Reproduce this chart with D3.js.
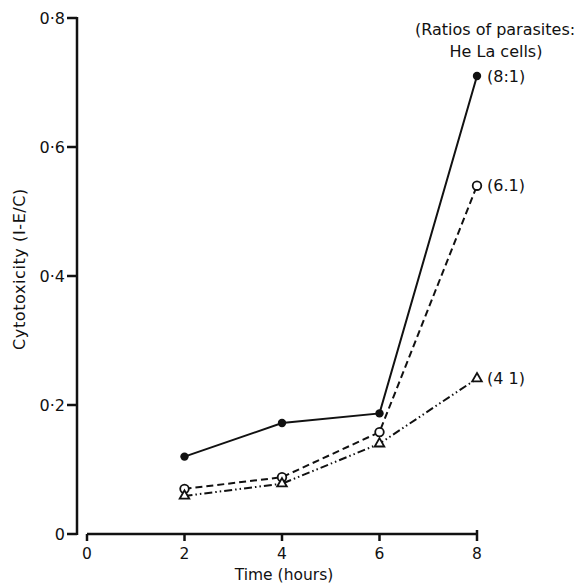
<!DOCTYPE html>
<html>
<head>
<meta charset="utf-8">
<script src="https://cdn.jsdelivr.net/npm/d3@7"></script>
<style>
  body { margin: 0; background: #fff; }
  svg text { font-family: "DejaVu Sans", sans-serif; fill: #111; }
</style>
</head>
<body>
<div id="chart"></div>
<script>
// data
const hours = [2, 4, 6, 8];
const ratio8 = [0.12, 0.172, 0.187, 0.71];
const ratio6 = [0.07, 0.088, 0.158, 0.54];
const ratio4 = [0.059, 0.078, 0.14, 0.241];
const seriesLabels = ["(8:1)", "(6.1)", "(4 1)"];
const xTicks = [0, 2, 4, 6, 8];
const yTicks = [0, 0.2, 0.4, 0.6, 0.8];

const W = 578, H = 583;
const svg = d3.select("#chart").append("svg")
    .attr("width", W).attr("height", H);

const x = d3.scaleLinear().domain([0, 8]).range([87, 477]);
const y = d3.scaleLinear().domain([0, 0.8]).range([534, 18]);

const fmt = d => d === 0 ? "0" : d3.format(".1f")(d).replace(".", "·");

// y axis
svg.append("line")
    .attr("x1", 77).attr("x2", 77)
    .attr("y1", y(0.8) - 1).attr("y2", y(0) + 1)
    .attr("stroke", "#111").attr("stroke-width", 2.5);
svg.selectAll(".ytick").data(yTicks).join("line")
    .attr("x1", 67).attr("x2", 77)
    .attr("y1", d => y(d)).attr("y2", d => y(d))
    .attr("stroke", "#111").attr("stroke-width", 2.5);
svg.selectAll(".ylab").data(yTicks).join("text")
    .attr("x", 65).attr("y", d => y(d))
    .attr("text-anchor", "end").attr("dominant-baseline", "central")
    .attr("font-size", 16)
    .text(fmt);

// x axis
svg.append("line")
    .attr("x1", x(0)).attr("x2", x(8) + 1)
    .attr("y1", 534).attr("y2", 534)
    .attr("stroke", "#111").attr("stroke-width", 2.5);
svg.selectAll(".xtick").data(xTicks).join("line")
    .attr("x1", d => x(d)).attr("x2", d => x(d))
    .attr("y1", d => d === 8 ? 530 : 534).attr("y2", 541)
    .attr("stroke", "#111").attr("stroke-width", 2.5);
svg.selectAll(".xlab").data(xTicks).join("text")
    .attr("x", d => x(d)).attr("y", 559)
    .attr("text-anchor", "middle")
    .attr("font-size", 15.5)
    .text(d => d);

svg.append("text")
    .attr("x", 284).attr("y", 580)
    .attr("text-anchor", "middle").attr("font-size", 15.5)
    .text("Time (hours)");

svg.append("text")
    .attr("transform", "translate(25,269) rotate(-90)")
    .attr("text-anchor", "middle").attr("font-size", 16)
    .attr("letter-spacing", 0.6)
    .text("Cytotoxicity (I-E/C)");

// series
const line = d3.line().x(d => x(d[0])).y(d => y(d[1]));
const series = [
  { vals: ratio8, dash: null, marker: "filled" },
  { vals: ratio6, dash: "7,4", marker: "open" },
  { vals: ratio4, dash: "8,3,1.5,3,1.5,3", marker: "tri" }
];

series.forEach((s, i) => {
  const pts = hours.map((h, j) => [h, s.vals[j]]);
  svg.append("path")
      .datum(pts)
      .attr("d", line)
      .attr("fill", "none")
      .attr("stroke", "#111")
      .attr("stroke-width", 2)
      .attr("stroke-dasharray", s.dash);

  if (s.marker === "filled") {
    svg.selectAll(".m" + i).data(pts).join("circle")
        .attr("cx", d => x(d[0])).attr("cy", d => y(d[1]))
        .attr("r", 4.2).attr("fill", "#111");
  } else if (s.marker === "open") {
    svg.selectAll(".m" + i).data(pts).join("circle")
        .attr("cx", d => x(d[0])).attr("cy", d => y(d[1]))
        .attr("r", 4.3).attr("fill", "#fff")
        .attr("stroke", "#111").attr("stroke-width", 1.8);
  } else {
    svg.selectAll(".m" + i).data(pts).join("path")
        .attr("transform", d => `translate(${x(d[0])},${y(d[1])})`)
        .attr("d", d3.symbol(d3.symbolTriangle, 40))
        .attr("fill", "#fff")
        .attr("stroke", "#111").attr("stroke-width", 1.8);
  }

  svg.append("text")
      .attr("x", x(8) + 10).attr("y", y(s.vals[3]))
      .attr("dominant-baseline", "central")
      .attr("font-size", 16)
      .text(seriesLabels[i]);
});

// legend heading
svg.append("text")
    .attr("x", 495).attr("y", 35)
    .attr("text-anchor", "middle").attr("font-size", 16)
    .text("(Ratios of parasites:");
svg.append("text")
    .attr("x", 496).attr("y", 57)
    .attr("text-anchor", "middle").attr("font-size", 16)
    .text("He La cells)");
</script>
</body>
</html>
